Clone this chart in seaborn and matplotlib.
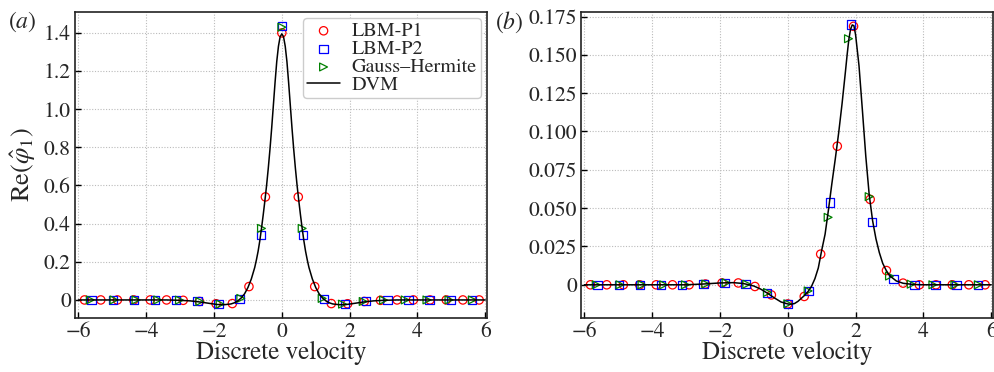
import numpy as np
import pandas as pd
import matplotlib
matplotlib.use("Agg")
import matplotlib.pyplot as plt
import seaborn as sns
from matplotlib.ticker import FixedLocator

# ---------------- data ----------------
# LBM-P1 (red circles) abscissae
p1_x = [-5.82, -5.34, -4.85, -4.37, -3.88, -3.40, -2.91, -2.43, -1.94, -1.46, -0.97, -0.485,
        0.0, 0.485, 0.97, 1.46, 1.94, 2.43, 2.91, 3.40, 3.88, 4.37, 4.85, 5.34, 5.82]
p1_a = [0, 0, 0, 0, 0, 0, -0.002, -0.008, -0.020, -0.019, 0.07, 0.54,
        1.40, 0.54, 0.07, -0.019, -0.020, -0.008, -0.002, 0, 0, 0, 0, 0, 0]
p1_b = [0, 0, 0, 0, 0, 0, 0, 0.0005, 0.0012, 0.0012, -0.0011, -0.0066,
        -0.0125, -0.0076, 0.0200, 0.0904, 0.1686, 0.0557, 0.0093, 0.0011, 0, 0, 0, 0, 0]

# LBM-P2 (blue squares)
p2_x = [-5.61, -4.98, -4.36, -3.74, -3.12, -2.49, -1.87, -1.25, -0.623,
        0.0, 0.623, 1.25, 1.87, 2.49, 3.12, 3.74, 4.36, 4.98, 5.61]
p2_a = [0, 0, 0, 0, -0.001, -0.007, -0.020, 0.004, 0.34,
        1.435, 0.34, 0.004, -0.020, -0.007, -0.001, 0, 0, 0, 0]
p2_b = [0, 0, 0, 0, 0, 0.0005, 0.0013, 0.0003, -0.0052,
        -0.0124, -0.0039, 0.0536, 0.1697, 0.0408, 0.0037, 0, 0, 0, 0]

# Gauss-Hermite (green right triangles)
gh_x = [-5.65, -4.95, -4.30, -3.66, -3.02, -2.42, -1.82, -1.21, -0.60,
        0.0, 0.60, 1.19, 1.79, 2.40, 3.00, 3.64, 4.28, 4.93, 5.62]
gh_a = [0, 0, 0, 0, -0.001, -0.008, -0.022, 0.008, 0.375,
        1.43, 0.375, 0.008, -0.022, -0.008, -0.001, 0, 0, 0, 0]
gh_b = [0, 0, 0, 0, 0, 0.0005, 0.0013, 0.0004, -0.0050,
        -0.0124, -0.0040, 0.0440, 0.1605, 0.0575, 0.0057, 0.0004, 0, 0, 0]

# DVM (black line), panel (a)
dvm_a_x = [-6.0, -3.4, -3.0, -2.7, -2.4, -2.1, -1.9, -1.7, -1.5, -1.4, -1.3, -1.2, -1.1, -1.0,
           -0.9, -0.8, -0.75, -0.7, -0.65, -0.6, -0.55, -0.5, -0.45, -0.4, -0.35, -0.3,
           -0.25, -0.2, -0.15, -0.1, -0.05, 0.0,
           0.05, 0.1, 0.15, 0.2, 0.25, 0.3, 0.35, 0.4, 0.45, 0.5, 0.55, 0.6, 0.65, 0.7,
           0.75, 0.8, 0.9, 1.0, 1.1, 1.2, 1.3, 1.4, 1.5, 1.7, 1.9, 2.1, 2.4, 2.7, 3.0, 3.4, 6.0]
dvm_a_y = [0, 0, -0.002, -0.005, -0.011, -0.019, -0.024, -0.025, -0.021, -0.015, -0.005, 0.010,
           0.032, 0.065, 0.11, 0.17, 0.21, 0.255, 0.31, 0.375, 0.445, 0.52, 0.60, 0.69, 0.79,
           0.90, 1.02, 1.14, 1.25, 1.33, 1.38, 1.395,
           1.38, 1.33, 1.25, 1.14, 1.02, 0.90, 0.79, 0.69, 0.60, 0.52, 0.445, 0.375, 0.31,
           0.255, 0.21, 0.17, 0.11, 0.065, 0.032, 0.010, -0.005, -0.015, -0.021, -0.025,
           -0.024, -0.019, -0.011, -0.005, -0.002, 0, 0]

# DVM (black line), panel (b)
dvm_b_x = [-6.0, -3.0, -2.5, -2.0, -1.6, -1.3, -1.0, -0.8, -0.6, -0.4, -0.2, 0.0, 0.1, 0.2,
           0.3, 0.4, 0.5, 0.6, 0.7, 0.8, 0.9, 1.0, 1.1, 1.2, 1.3, 1.4, 1.5, 1.6, 1.7, 1.75,
           1.8, 1.85, 1.9, 1.95, 2.0, 2.1, 2.2, 2.3, 2.4, 2.5, 2.6, 2.7, 2.8, 2.9, 3.0, 3.2,
           3.4, 3.7, 4.0, 6.0]
dvm_b_y = [0, 0, 0.0005, 0.0012, 0.0014, 0.0008, -0.0008, -0.0028, -0.0055, -0.0085, -0.0112,
           -0.0125, -0.0127, -0.0122, -0.0108, -0.0088, -0.0068, -0.0043, -0.0010, 0.0040,
           0.0110, 0.0225, 0.0330, 0.0490, 0.0660, 0.0820, 0.0990, 0.1180, 0.1390, 0.1500,
           0.1600, 0.1665, 0.1695, 0.1690, 0.1630, 0.1430, 0.1140, 0.0840, 0.0590, 0.0420,
           0.0300, 0.0210, 0.0140, 0.0095, 0.0060, 0.0025, 0.0010, 0.0002, 0, 0]

xticks = [-6, -4, -2, 0, 2, 4, 6]
xlabels = ["\u22126", "\u22124", "\u22122", "0", "2", "4", "6"]
yticks_a = [0, 0.2, 0.4, 0.6, 0.8, 1.0, 1.2, 1.4]
yticks_b = [0, 0.025, 0.05, 0.075, 0.1, 0.125, 0.15, 0.175]
ylabels_a = ["0", "0.2", "0.4", "0.6", "0.8", "1.0", "1.2", "1.4"]
ylabels_b = ["0", "0.025", "0.050", "0.075", "0.100", "0.125", "0.150", "0.175"]

# ---------------- style ----------------
sns.set_theme(style="ticks")
plt.rcParams["font.family"] = ["STIXGeneral", "Liberation Serif", "DejaVu Serif"]
plt.rcParams["mathtext.fontset"] = "stix"
plt.rcParams["axes.unicode_minus"] = True

fig = plt.figure(figsize=(9.95, 3.72), dpi=100)
ax_a = fig.add_axes([0.0754, 0.145, 0.414, 0.823])
ax_b = fig.add_axes([0.5839, 0.145, 0.414, 0.823])


def draw(ax, ya1, ya2, ygh, lx, ly, legend):
    sns.scatterplot(x=p1_x, y=ya1, ax=ax, marker="o", s=36, color="red",
                    facecolors="none", edgecolor="red", linewidth=0.9,
                    label="LBM-P1", zorder=3)
    sns.scatterplot(x=p2_x, y=ya2, ax=ax, marker="s", s=36, color="blue",
                    facecolors="none", edgecolor="blue", linewidth=0.9,
                    label="LBM-P2", zorder=3)
    sns.scatterplot(x=gh_x, y=ygh, ax=ax, marker=">", s=32, color="green",
                    facecolors="none", edgecolor="green", linewidth=0.9,
                    label="Gauss\u2013Hermite", zorder=3)
    sns.lineplot(x=lx, y=ly, ax=ax, color="black", linewidth=1.1, sort=False,
                 label="DVM", zorder=4)
    ax.set_xlim(-6.1, 6.05)
    ax.xaxis.set_major_locator(FixedLocator(xticks))
    ax.set_xticklabels(xlabels)
    ax.grid(True, linestyle=(0, (1, 1.5)), color="#bbbbbb", linewidth=0.8)
    ax.tick_params(direction="in", length=4, width=1, labelsize=15.5, color="black",
                   top=False, right=False, pad=3)
    for sp in ax.spines.values():
        sp.set_color("#222222")
        sp.set_linewidth(1.2)
    ax.set_xlabel("Discrete velocity", fontsize=18, labelpad=-1)
    if legend:
        leg = ax.legend(loc="upper right", fontsize=14.5, frameon=True, fancybox=True,
                        edgecolor="#cccccc", framealpha=1, handlelength=1.6,
                        handletextpad=0.6, borderpad=0.2, labelspacing=0.0,
                        borderaxespad=0.3)
        leg.get_frame().set_linewidth(1.0)
    else:
        if ax.get_legend() is not None:
            ax.get_legend().remove()


draw(ax_a, p1_a, p2_a, gh_a, dvm_a_x, dvm_a_y, True)
ax_a.set_ylim(-0.095, 1.51)
ax_a.yaxis.set_major_locator(FixedLocator(yticks_a))
ax_a.set_yticklabels(ylabels_a)
ax_a.set_ylabel(r"Re$(\hat{\varphi}_1)$", fontsize=19, labelpad=4)

draw(ax_b, p1_b, p2_b, gh_b, dvm_b_x, dvm_b_y, False)
ax_b.set_ylim(-0.0217, 0.178)
ax_b.yaxis.set_major_locator(FixedLocator(yticks_b))
ax_b.set_yticklabels(ylabels_b)

fig.text(0.008, 0.975, r"$(a)$", fontsize=17, va="top", ha="left")
fig.text(0.497, 0.975, r"$(b)$", fontsize=17, va="top", ha="left")

fig.savefig("out.png", dpi=100)
